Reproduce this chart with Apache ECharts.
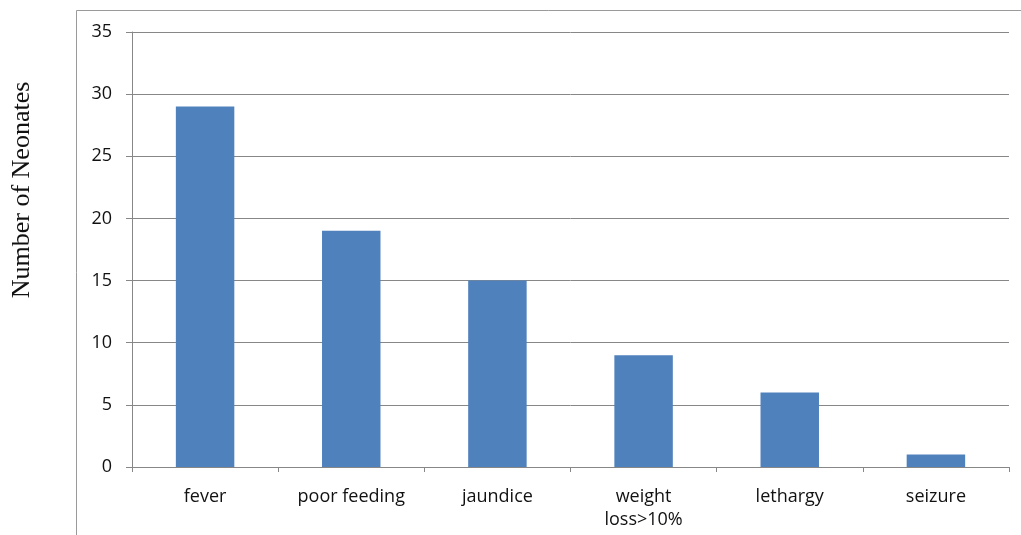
<!DOCTYPE html>
<html>
<head>
<meta charset="utf-8">
<script src="https://cdn.jsdelivr.net/npm/echarts@6/dist/echarts.min.js"></script>
<style>
  html, body { margin: 0; padding: 0; background: #fff; }
  #chart { width: 1021px; height: 535px; }
</style>
</head>
<body>
<div id="chart"></div>
<script>
// Presenting symptoms and how many neonates showed each one
const categories = ['fever', 'poor feeding', 'jaundice', 'weight\nloss>10%', 'lethargy', 'seizure'];
const neonateCounts = [29, 19, 15, 9, 6, 1];
const yTicks = [0, 5, 10, 15, 20, 25, 30, 35];
const yTitle = 'Number of Neonates';

const axisGray = '#878787';
const labelFont = '"Open Sans", "Liberation Sans", sans-serif';

const chart = echarts.init(document.getElementById('chart'), null, { renderer: 'canvas' });
chart.setOption({
  animation: false,
  backgroundColor: '#fff',
  graphic: [
    // chart area border (left and top edges)
    { type: 'line', silent: true, shape: { x1: 76.5, y1: 535, x2: 76.5, y2: 10.5 }, style: { stroke: '#9a9a9a', lineWidth: 1 } },
    { type: 'line', silent: true, shape: { x1: 76.5, y1: 10.5, x2: 1021, y2: 10.5 }, style: { stroke: '#9a9a9a', lineWidth: 1 } },
    // vertical axis title
    {
      type: 'text', silent: true,
      x: 22, y: 190, rotation: Math.PI / 2,
      style: {
        text: yTitle,
        fill: '#111',
        font: '26px "Liberation Serif", "Times New Roman", serif',
        align: 'center', verticalAlign: 'middle'
      }
    }
  ],
  grid: { left: 132, right: 12, top: 32, bottom: 68, containLabel: false, outerBoundsMode: 'none' },
  xAxis: {
    type: 'category',
    data: categories,
    boundaryGap: true,
    axisLine: { show: true, lineStyle: { color: axisGray, width: 1 } },
    axisTick: { show: true, alignWithLabel: false, length: 5, lineStyle: { color: axisGray } },
    axisLabel: { color: '#111', fontFamily: labelFont, fontSize: 18, margin: 18, lineHeight: 23, interval: 0 }
  },
  yAxis: {
    type: 'value',
    min: yTicks[0],
    max: yTicks[yTicks.length - 1],
    interval: 5,
    axisLine: { show: true, lineStyle: { color: axisGray, width: 1 } },
    axisTick: { show: true, length: 6, inside: false, lineStyle: { color: axisGray } },
    axisLabel: { color: '#111', fontFamily: labelFont, fontSize: 18, margin: 20,
      formatter: v => (yTicks.includes(v) ? String(v) : '') },
    splitLine: { show: true, lineStyle: { color: axisGray, width: 1 } }
  },
  series: [{
    type: 'bar',
    data: neonateCounts,
    barWidth: '40%',
    itemStyle: { color: '#4f81bd' }
  }]
});
</script>
</body>
</html>
